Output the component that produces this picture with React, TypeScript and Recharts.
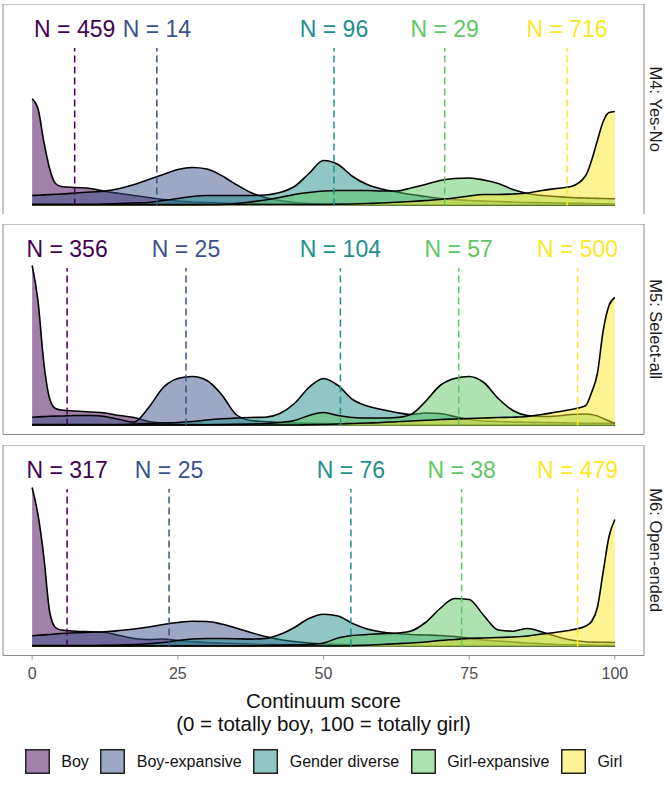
import React from 'react'
import { ComposedChart, Area, XAxis, YAxis, ReferenceLine, ReferenceArea, Label } from 'recharts'

const FONT = '"Liberation Sans", Arial, Helvetica, sans-serif'

const groups = ['Boy', 'Boy-expansive', 'Gender diverse', 'Girl-expansive', 'Girl']
const groupKeys = ['boy', 'boyExp', 'gd', 'girlExp', 'girl']
const colors = ['#440154', '#3B528B', '#21908C', '#5DC863', '#FDE725']

// continuum score grid (x) shared by every density curve
const scores = [
  0, 1, 2, 3, 4, 5,
  7.5, 10, 12.5, 15, 17.5, 20, 22.5, 25, 27.5, 30,
  32.5, 35, 37.5, 40, 42.5, 45, 47.5, 50, 52.5, 55,
  57.5, 60, 62.5, 65, 67.5, 70, 72.5, 75, 77.5, 80,
  82.5, 85, 87.5, 90, 92.5, 95,
  96, 97, 98, 99, 100,
]

// densities (x1000)

// M4: Yes-No
const m4Boy = [
  106.7, 97, 64, 37, 22, 19,
  18, 17, 14, 12, 10, 8, 6, 4.5, 3.5, 3,
  2.5, 2, 1.8, 1.5, 1.3, 1.2, 1, 1, 0.9, 0.8,
  0.8, 0.7, 0.7, 0.6, 0.6, 0.5, 0.5, 0.5, 0.5, 0.5,
  0.5, 0.5, 0.5, 0.5, 0.5, 0.5,
  0.5, 0.5, 0.5, 0.5, 0.5,
]
const m4BoyExp = [
  10, 10.3, 10.6, 10.9, 11.2, 11.5,
  12.5, 13.5, 14.5, 17, 21, 26, 31, 36, 38, 36.5,
  30, 21, 13, 8, 5, 3, 2, 1.5, 1.2, 1,
  0.8, 0.7, 0.6, 0.5, 0.5, 0.5, 0.5, 0.4, 0.4, 0.4,
  0.4, 0.4, 0.4, 0.4, 0.4, 0.4,
  0.4, 0.4, 0.4, 0.4, 0.4,
]
const m4Gd = [
  1, 1, 1, 1, 1, 1,
  1, 1, 1.5, 2, 2.5, 3, 5, 7, 9, 10,
  10, 10, 10, 10.5, 13, 19, 32, 45, 41, 29,
  21, 16.5, 13.5, 11, 9, 7, 6, 5, 4.5, 4,
  3.5, 3, 2.8, 2.5, 2.2, 2,
  1.9, 1.8, 1.7, 1.6, 1.5,
]
const m4GirlExp = [
  0.5, 0.5, 0.5, 0.5, 0.5, 0.5,
  0.5, 0.5, 0.5, 0.5, 0.5, 0.5, 0.5, 0.6, 0.6, 0.7,
  1, 2, 3.5, 5.5, 8, 11, 13, 14.5, 15, 15,
  15, 14.5, 14.5, 17.5, 21, 25, 27, 27.5, 25.5, 22,
  16, 12, 10, 9, 8, 7.5,
  7.3, 7.1, 7, 6.8, 6.7,
]
const m4Girl = [
  1, 1, 1, 1, 1, 1,
  1, 1, 1, 1, 1, 1, 1, 1, 1, 1,
  1, 1, 1, 1, 1, 1, 1, 1, 1.2, 1.5,
  2, 2.5, 3.2, 4, 5, 6, 7.5, 9.5, 11, 11,
  11.5, 12.5, 15, 17, 19, 30,
  45, 65, 84, 93, 94,
]

// M5: Select-all
const m5Boy = [
  160, 125, 63, 27, 17, 15.5,
  14.5, 13.5, 12.5, 10, 8, 4, 2.5, 1.5, 1.2, 1,
  1, 0.9, 0.8, 0.8, 0.7, 0.7, 0.6, 0.6, 0.6, 0.5,
  0.5, 0.5, 0.5, 0.5, 0.5, 0.5, 0.5, 0.5, 0.5, 0.5,
  0.5, 0.5, 0.5, 0.5, 0.5, 0.5,
  0.5, 0.5, 0.5, 0.5, 0.5,
]
const m5BoyExp = [
  8.3, 8.6, 8.9, 9.2, 9.4, 9.5,
  10, 10, 9, 6, 3.5, 18, 38, 47, 49, 45,
  31, 11, 5, 4, 3, 2.5, 2.2, 2, 1.8, 1.5,
  1.3, 1, 1, 0.9, 0.8, 0.8, 0.7, 0.6, 0.6, 0.5,
  0.5, 0.5, 0.5, 0.5, 0.5, 0.5,
  0.5, 0.5, 0.5, 0.5, 0.5,
]
const m5Gd = [
  1, 1, 1, 1, 1, 1,
  1, 1, 1, 1, 1.5, 2, 2.5, 3, 4, 5.5,
  6.7, 7.5, 8, 8.3, 12, 22, 38, 47, 40, 26,
  19.5, 16, 13, 11, 12.5, 12, 9, 6, 4.5, 4,
  3.5, 3.3, 3, 2.8, 2.5, 2.3,
  2.3, 2.3, 2.3, 2.3, 2.3,
]
const m5GirlExp = [
  0.5, 0.5, 0.5, 0.5, 0.5, 0.5,
  0.5, 0.5, 0.5, 0.5, 0.5, 0.5, 0.5, 0.5, 0.6, 0.8,
  1, 1.2, 1.5, 2, 3, 5, 10, 13, 10, 8,
  7.5, 7.5, 8, 11, 24, 40, 47, 49, 43, 27,
  15, 10, 9, 9.5, 11, 11.5,
  11, 9.5, 7, 4.5, 2,
]
const m5Girl = [
  0.5, 0.5, 0.5, 0.5, 0.5, 0.5,
  0.5, 0.5, 0.5, 0.5, 0.5, 0.5, 0.5, 0.5, 0.5, 0.5,
  0.5, 0.5, 0.5, 0.5, 0.5, 0.5, 0.8, 1, 1.5, 2,
  2.5, 3, 3.8, 4.5, 5.2, 6, 6.5, 7, 7.5, 8,
  8.3, 9, 11, 13.5, 16, 20,
  33, 52, 95, 120, 128,
]

// M6: Open-ended
const m6Boy = [
  159, 132, 90, 35, 19, 16.5,
  15.3, 14.7, 14, 11, 8, 7, 7.5, 6, 5, 4,
  3.5, 3, 2.5, 2, 1.8, 1.5, 1.2, 1, 0.9, 0.8,
  0.8, 0.7, 0.7, 0.6, 0.6, 0.5, 0.5, 0.5, 0.5, 0.5,
  0.5, 0.5, 0.5, 0.5, 0.5, 0.5,
  0.5, 0.5, 0.5, 0.5, 0.5,
]
const m6BoyExp = [
  10.7, 11.2, 11.6, 12, 12.5, 13,
  13.8, 14.3, 14.8, 16, 17.5, 19.5, 22, 24, 25.3, 25,
  22.5, 18.5, 14, 10, 7, 5, 3.5, 2.5, 2, 1.5,
  1.2, 1, 0.9, 0.8, 0.8, 0.7, 0.6, 0.6, 0.5, 0.5,
  0.5, 0.5, 0.5, 0.5, 0.5, 0.5,
  0.5, 0.5, 0.5, 0.5, 0.5,
]
const m6Gd = [
  1, 1, 1, 1, 1, 1,
  1, 1, 1.2, 1.5, 2, 2.8, 4, 6, 7.5, 8,
  8, 7.8, 7.4, 8, 12, 19, 28, 32.3, 30.5, 23,
  17.5, 14.5, 13, 12, 11.5, 11, 10, 8.5, 6.5, 5.5,
  4.5, 3.5, 2.8, 2, 1.7, 1.5,
  1.4, 1.3, 1.2, 1.1, 1,
]
const m6GirlExp = [
  0.5, 0.5, 0.5, 0.5, 0.5, 0.5,
  0.5, 0.5, 0.5, 0.5, 0.5, 0.5, 0.5, 0.5, 0.5, 0.5,
  0.5, 0.5, 0.5, 1, 1.2, 1.5, 2, 3.5, 8.5, 11,
  12, 12.8, 13.3, 15.5, 24, 38, 48, 47, 31, 16.5,
  15.3, 18, 14.5, 10, 6.5, 4.8,
  4.5, 4.3, 4.2, 4.1, 4,
]
const m6Girl = [
  0.5, 0.5, 0.5, 0.5, 0.5, 0.5,
  0.5, 0.5, 0.5, 0.5, 0.5, 0.5, 0.5, 0.5, 0.5, 0.5,
  0.5, 0.5, 0.5, 0.5, 0.5, 0.5, 0.5, 0.5, 0.5, 0.8,
  1.3, 2, 2.8, 3.5, 4.5, 6, 7, 8, 8.5, 9,
  9.5, 10.5, 12.5, 14.3, 16.5, 20.5,
  25, 39, 75, 110, 127,
]

// group means (dashed lines) and sample sizes
const m4Means = [7.3, 21.4, 51.8, 70.8, 91.8]
const m4Counts = [459, 14, 96, 29, 716]
const m5Means = [6.0, 26.4, 52.9, 73.2, 93.6]
const m5Counts = [356, 25, 104, 57, 500]
const m6Means = [6.0, 23.5, 54.7, 73.7, 93.6]
const m6Counts = [317, 25, 76, 38, 479]

const xTicks = [0, 25, 50, 75, 100]

const panels = [
  { title: 'M4: Yes-No', series: [m4Boy, m4BoyExp, m4Gd, m4GirlExp, m4Girl], means: m4Means, counts: m4Counts },
  { title: 'M5: Select-all', series: [m5Boy, m5BoyExp, m5Gd, m5GirlExp, m5Girl], means: m5Means, counts: m5Counts },
  { title: 'M6: Open-ended', series: [m6Boy, m6BoyExp, m6Gd, m6GirlExp, m6Girl], means: m6Means, counts: m6Counts },
]

const PANEL_H = 210.5
const AXIS_H = 95
const Y_MIN = -9
const Y_MAX = 201.5
const SEG_TOP = 157.5
const panelTops = [3.5, 224, 444.5]

function buildRows(series: number[][]) {
  return scores.map((x, i) => {
    const row: any = { x }
    groupKeys.forEach((k, g) => {
      row[k] = series[g][i]
    })
    return row
  })
}

const stripLabel = (title: string) => (props: any) => {
  const { x, y, width, height } = props.viewBox
  const cx = x + width + 12
  const cy = y + height / 2
  return (
    <text
      x={cx}
      y={cy}
      transform={`rotate(90 ${cx} ${cy})`}
      textAnchor="middle"
      dominantBaseline="central"
      fontFamily={FONT}
      fontSize={16.5}
      fill="#1a1a1a"
    >
      {title}
    </text>
  )
}

const axisTitle = (props: any) => {
  const { x, y, width } = props.viewBox
  const cx = x + width / 2
  return (
    <text textAnchor="middle" fontFamily={FONT} fontSize={20.5} fill="#111">
      <tspan x={cx} y={y + 52}>Continuum score</tspan>
      <tspan x={cx} y={y + 75}>(0 = totally boy, 100 = totally girl)</tspan>
    </text>
  )
}

function Panel({ panel, top, showAxis }: { panel: any; top: number; showAxis: boolean }) {
  const rows = buildRows(panel.series)
  return (
    <div style={{ position: 'absolute', left: 0, top }}>
      <ComposedChart
        width={666}
        height={PANEL_H + (showAxis ? AXIS_H : 0)}
        data={rows}
        margin={{ top: 0, right: 22, bottom: 0, left: 3 }}
      >
        <XAxis
          dataKey="x"
          type="number"
          domain={[-5, 105]}
          allowDataOverflow
          ticks={xTicks}
          interval={0}
          hide={!showAxis}
          height={AXIS_H}
          axisLine={false}
          tickLine={{ stroke: '#9a9a9a' }}
          tickSize={4}
          tickMargin={8}
          tick={{ fill: '#4d4d4d', fontSize: 16, fontFamily: FONT }}
          label={<Label content={axisTitle} />}
        />
        <YAxis type="number" domain={[Y_MIN, Y_MAX]} allowDataOverflow hide />
        {groupKeys.map((k, i) => (
          <Area
            key={k}
            dataKey={k}
            name={groups[i]}
            type="monotone"
            baseValue={0}
            fill={colors[i]}
            fillOpacity={0.5}
            stroke="#000"
            strokeWidth={1.6}
            dot={false}
            activeDot={false}
            isAnimationActive={false}
          />
        ))}
        {panel.means.map((m: number, i: number) => (
          <ReferenceLine
            key={'seg' + i}
            segment={[{ x: m, y: 0 }, { x: m, y: SEG_TOP }]}
            stroke={colors[i]}
            strokeWidth={1.5}
            strokeDasharray="7 4"
            label={{
              value: `N = ${panel.counts[i]}`,
              position: 'top',
              offset: 11,
              fill: colors[i],
              fontSize: 23,
              fontFamily: FONT,
            }}
          />
        ))}
        <ReferenceArea
          x1={-5}
          x2={105}
          y1={Y_MIN}
          y2={Y_MAX}
          fill="none"
          stroke="#8a8a8a"
          strokeWidth={1}
          ifOverflow="visible"
          label={<Label content={stripLabel(panel.title)} />}
        />
      </ComposedChart>
    </div>
  )
}

function LegendRow() {
  return (
    <div
      style={{
        position: 'absolute',
        left: 3,
        width: 641,
        top: 749,
        height: 25,
        display: 'flex',
        justifyContent: 'center',
        alignItems: 'center',
        gap: 11.5,
      }}
    >
      {groups.map((g, i) => (
        <div key={g} style={{ display: 'flex', alignItems: 'center' }}>
          <svg width={25} height={25} style={{ display: 'block' }}>
            <rect x={0.75} y={0.75} width={23.5} height={23.5} fill={colors[i]} fillOpacity={0.5} stroke="#222" strokeWidth={1.5} />
          </svg>
          <span style={{ marginLeft: 11.5, fontSize: 16, color: '#111', fontFamily: FONT, whiteSpace: 'nowrap' }}>{g}</span>
        </div>
      ))}
    </div>
  )
}

export default function App() {
  return (
    <div style={{ position: 'absolute', left: 0, top: 0, width: 666, height: 787, background: '#fff', fontFamily: FONT }}>
      {panels.map((p, i) => (
        <Panel key={p.title} panel={p} top={panelTops[i]} showAxis={i === panels.length - 1} />
      ))}
      <LegendRow />
    </div>
  )
}
